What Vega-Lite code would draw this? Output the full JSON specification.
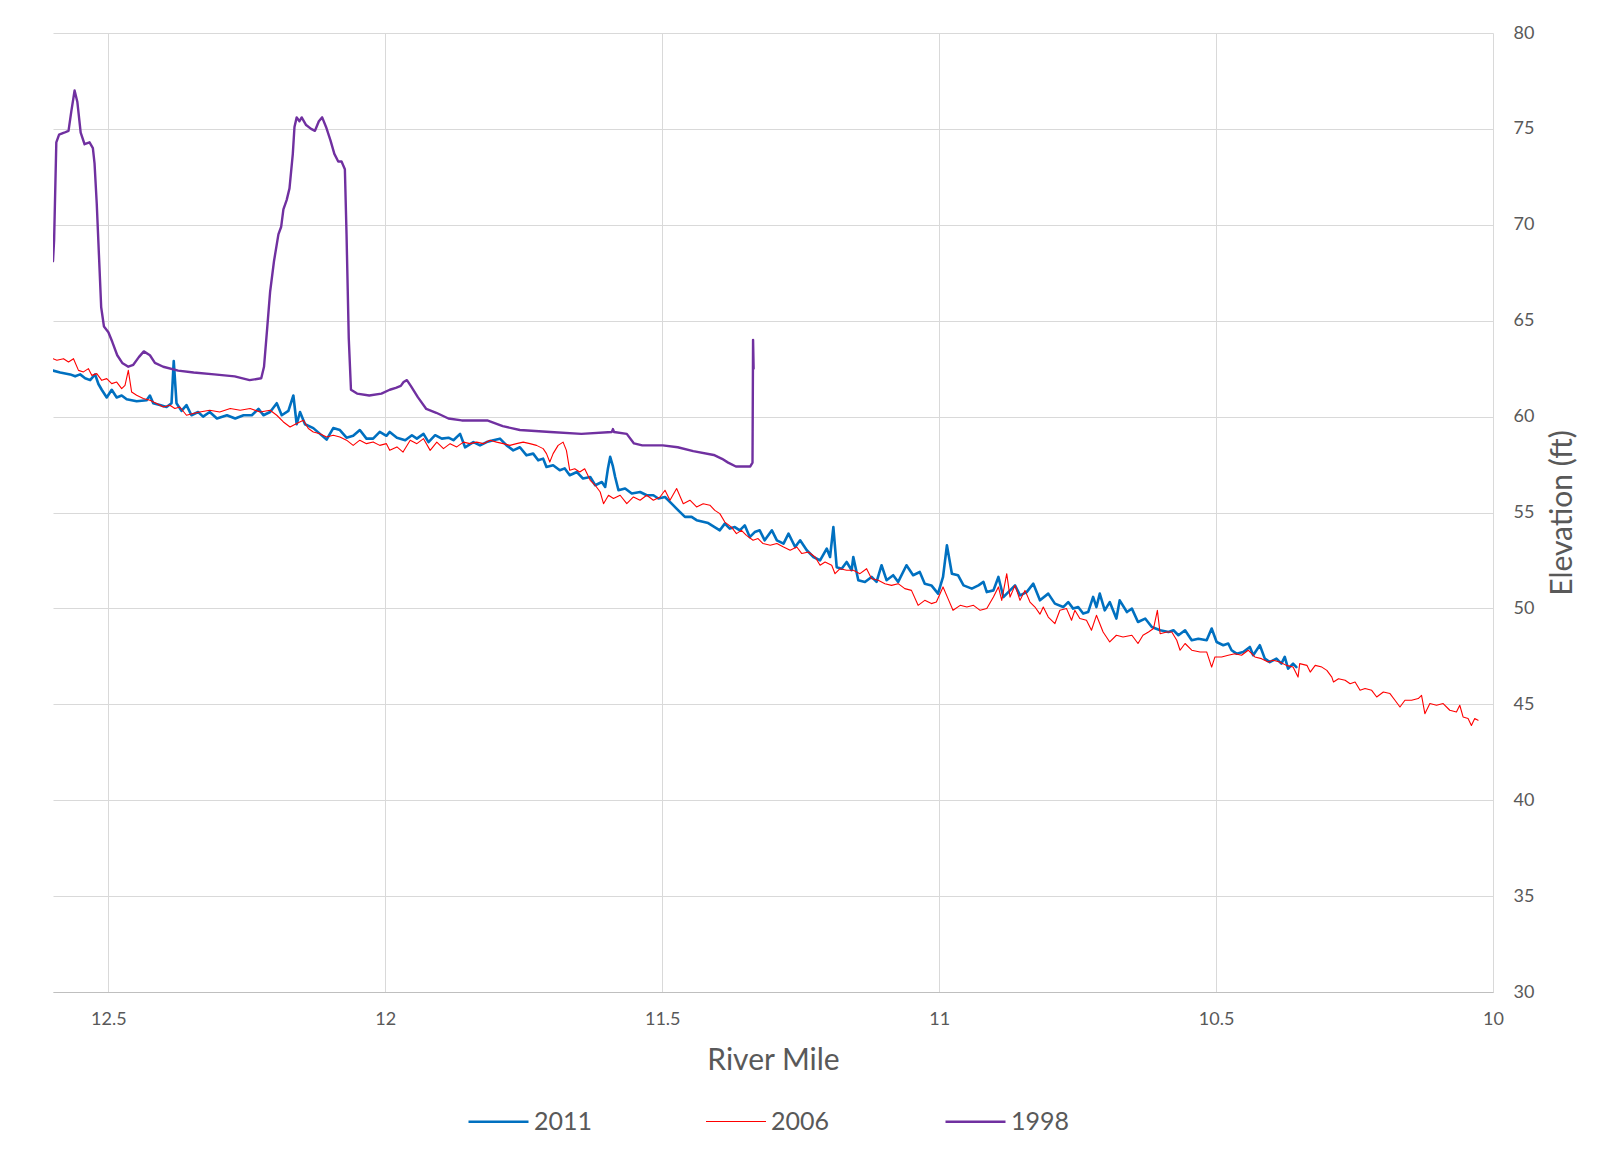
{
  "$schema": "https://vega.github.io/schema/vega-lite/v6.json",
  "autosize": {"type": "none"},
  "width": 1440,
  "height": 959,
  "padding": {"left": 53, "top": 33, "right": 107, "bottom": 173},
  "background": "white",
  "config": {"view": {"stroke": null}, "font": "Lato"},
  "data": {"values": [
{"year":"2011","mile":12.600,"elev":62.4},{"year":"2011","mile":12.587,"elev":62.3},{"year":"2011","mile":12.569,"elev":62.2},{"year":"2011","mile":12.560,"elev":62.1},{"year":"2011","mile":12.551,"elev":62.2},{"year":"2011","mile":12.542,"elev":62.0},{"year":"2011","mile":12.533,"elev":61.9},{"year":"2011","mile":12.524,"elev":62.2},{"year":"2011","mile":12.518,"elev":61.7},{"year":"2011","mile":12.512,"elev":61.4},{"year":"2011","mile":12.503,"elev":61.0},{"year":"2011","mile":12.494,"elev":61.4},{"year":"2011","mile":12.485,"elev":61.0},{"year":"2011","mile":12.476,"elev":61.1},{"year":"2011","mile":12.467,"elev":60.9},{"year":"2011","mile":12.449,"elev":60.8},{"year":"2011","mile":12.431,"elev":60.85},{"year":"2011","mile":12.425,"elev":61.1},{"year":"2011","mile":12.419,"elev":60.7},{"year":"2011","mile":12.407,"elev":60.6},{"year":"2011","mile":12.395,"elev":60.5},{"year":"2011","mile":12.386,"elev":60.7},{"year":"2011","mile":12.382,"elev":62.9},{"year":"2011","mile":12.377,"elev":60.7},{"year":"2011","mile":12.368,"elev":60.3},{"year":"2011","mile":12.359,"elev":60.6},{"year":"2011","mile":12.350,"elev":60.07},{"year":"2011","mile":12.338,"elev":60.24},{"year":"2011","mile":12.329,"elev":60.0},{"year":"2011","mile":12.317,"elev":60.24},{"year":"2011","mile":12.304,"elev":59.9},{"year":"2011","mile":12.286,"elev":60.07},{"year":"2011","mile":12.271,"elev":59.9},{"year":"2011","mile":12.256,"elev":60.07},{"year":"2011","mile":12.241,"elev":60.07},{"year":"2011","mile":12.229,"elev":60.4},{"year":"2011","mile":12.220,"elev":60.07},{"year":"2011","mile":12.208,"elev":60.24},{"year":"2011","mile":12.196,"elev":60.7},{"year":"2011","mile":12.187,"elev":60.07},{"year":"2011","mile":12.175,"elev":60.3},{"year":"2011","mile":12.166,"elev":61.1},{"year":"2011","mile":12.160,"elev":59.6},{"year":"2011","mile":12.154,"elev":60.24},{"year":"2011","mile":12.145,"elev":59.6},{"year":"2011","mile":12.130,"elev":59.4},{"year":"2011","mile":12.118,"elev":59.1},{"year":"2011","mile":12.106,"elev":58.8},{"year":"2011","mile":12.094,"elev":59.4},{"year":"2011","mile":12.082,"elev":59.3},{"year":"2011","mile":12.070,"elev":58.9},{"year":"2011","mile":12.058,"elev":59.0},{"year":"2011","mile":12.046,"elev":59.3},{"year":"2011","mile":12.034,"elev":58.85},{"year":"2011","mile":12.022,"elev":58.85},{"year":"2011","mile":12.010,"elev":59.2},{"year":"2011","mile":11.998,"elev":59.0},{"year":"2011","mile":11.992,"elev":59.2},{"year":"2011","mile":11.979,"elev":58.9},{"year":"2011","mile":11.964,"elev":58.77},{"year":"2011","mile":11.952,"elev":59.03},{"year":"2011","mile":11.943,"elev":58.85},{"year":"2011","mile":11.931,"elev":59.1},{"year":"2011","mile":11.922,"elev":58.67},{"year":"2011","mile":11.910,"elev":59.03},{"year":"2011","mile":11.898,"elev":58.85},{"year":"2011","mile":11.886,"elev":58.9},{"year":"2011","mile":11.877,"elev":58.77},{"year":"2011","mile":11.865,"elev":59.1},{"year":"2011","mile":11.856,"elev":58.4},{"year":"2011","mile":11.841,"elev":58.67},{"year":"2011","mile":11.829,"elev":58.5},{"year":"2011","mile":11.817,"elev":58.67},{"year":"2011","mile":11.805,"elev":58.77},{"year":"2011","mile":11.793,"elev":58.85},{"year":"2011","mile":11.781,"elev":58.5},{"year":"2011","mile":11.769,"elev":58.24},{"year":"2011","mile":11.757,"elev":58.4},{"year":"2011","mile":11.745,"elev":57.98},{"year":"2011","mile":11.733,"elev":58.07},{"year":"2011","mile":11.724,"elev":57.72},{"year":"2011","mile":11.715,"elev":57.81},{"year":"2011","mile":11.709,"elev":57.37},{"year":"2011","mile":11.697,"elev":57.46},{"year":"2011","mile":11.685,"elev":57.2},{"year":"2011","mile":11.676,"elev":57.3},{"year":"2011","mile":11.667,"elev":56.94},{"year":"2011","mile":11.654,"elev":57.11},{"year":"2011","mile":11.643,"elev":56.77},{"year":"2011","mile":11.630,"elev":56.85},{"year":"2011","mile":11.621,"elev":56.42},{"year":"2011","mile":11.609,"elev":56.59},{"year":"2011","mile":11.603,"elev":56.33},{"year":"2011","mile":11.598,"elev":57.3},{"year":"2011","mile":11.594,"elev":57.9},{"year":"2011","mile":11.589,"elev":57.4},{"year":"2011","mile":11.585,"elev":56.85},{"year":"2011","mile":11.579,"elev":56.16},{"year":"2011","mile":11.567,"elev":56.25},{"year":"2011","mile":11.555,"elev":55.99},{"year":"2011","mile":11.540,"elev":56.07},{"year":"2011","mile":11.528,"elev":55.9},{"year":"2011","mile":11.516,"elev":55.9},{"year":"2011","mile":11.507,"elev":55.73},{"year":"2011","mile":11.495,"elev":55.81},{"year":"2011","mile":11.483,"elev":55.46},{"year":"2011","mile":11.471,"elev":55.11},{"year":"2011","mile":11.459,"elev":54.77},{"year":"2011","mile":11.447,"elev":54.77},{"year":"2011","mile":11.438,"elev":54.6},{"year":"2011","mile":11.417,"elev":54.45},{"year":"2011","mile":11.396,"elev":54.07},{"year":"2011","mile":11.387,"elev":54.42},{"year":"2011","mile":11.378,"elev":54.16},{"year":"2011","mile":11.369,"elev":54.24},{"year":"2011","mile":11.360,"elev":54.07},{"year":"2011","mile":11.351,"elev":54.33},{"year":"2011","mile":11.342,"elev":53.72},{"year":"2011","mile":11.333,"elev":53.98},{"year":"2011","mile":11.324,"elev":54.07},{"year":"2011","mile":11.315,"elev":53.55},{"year":"2011","mile":11.302,"elev":54.07},{"year":"2011","mile":11.293,"elev":53.55},{"year":"2011","mile":11.281,"elev":53.38},{"year":"2011","mile":11.272,"elev":53.9},{"year":"2011","mile":11.260,"elev":53.2},{"year":"2011","mile":11.251,"elev":53.55},{"year":"2011","mile":11.239,"elev":53.03},{"year":"2011","mile":11.227,"elev":52.68},{"year":"2011","mile":11.215,"elev":52.5},{"year":"2011","mile":11.203,"elev":53.12},{"year":"2011","mile":11.197,"elev":52.68},{"year":"2011","mile":11.191,"elev":54.24},{"year":"2011","mile":11.185,"elev":52.15},{"year":"2011","mile":11.176,"elev":52.07},{"year":"2011","mile":11.167,"elev":52.42},{"year":"2011","mile":11.158,"elev":51.99},{"year":"2011","mile":11.155,"elev":52.68},{"year":"2011","mile":11.146,"elev":51.47},{"year":"2011","mile":11.134,"elev":51.38},{"year":"2011","mile":11.122,"elev":51.64},{"year":"2011","mile":11.113,"elev":51.38},{"year":"2011","mile":11.104,"elev":52.25},{"year":"2011","mile":11.095,"elev":51.47},{"year":"2011","mile":11.083,"elev":51.73},{"year":"2011","mile":11.074,"elev":51.38},{"year":"2011","mile":11.059,"elev":52.25},{"year":"2011","mile":11.047,"elev":51.73},{"year":"2011","mile":11.035,"elev":51.9},{"year":"2011","mile":11.026,"elev":51.29},{"year":"2011","mile":11.014,"elev":51.2},{"year":"2011","mile":11.002,"elev":50.77},{"year":"2011","mile":10.993,"elev":51.64},{"year":"2011","mile":10.986,"elev":53.29},{"year":"2011","mile":10.977,"elev":51.81},{"year":"2011","mile":10.966,"elev":51.73},{"year":"2011","mile":10.956,"elev":51.2},{"year":"2011","mile":10.941,"elev":51.03},{"year":"2011","mile":10.929,"elev":51.2},{"year":"2011","mile":10.920,"elev":51.38},{"year":"2011","mile":10.914,"elev":50.85},{"year":"2011","mile":10.902,"elev":50.94},{"year":"2011","mile":10.893,"elev":51.64},{"year":"2011","mile":10.884,"elev":50.59},{"year":"2011","mile":10.872,"elev":50.94},{"year":"2011","mile":10.863,"elev":51.2},{"year":"2011","mile":10.854,"elev":50.68},{"year":"2011","mile":10.842,"elev":50.85},{"year":"2011","mile":10.830,"elev":51.29},{"year":"2011","mile":10.818,"elev":50.42},{"year":"2011","mile":10.803,"elev":50.77},{"year":"2011","mile":10.791,"elev":50.25},{"year":"2011","mile":10.776,"elev":50.07},{"year":"2011","mile":10.767,"elev":50.33},{"year":"2011","mile":10.758,"elev":49.99},{"year":"2011","mile":10.749,"elev":50.07},{"year":"2011","mile":10.740,"elev":49.73},{"year":"2011","mile":10.731,"elev":49.81},{"year":"2011","mile":10.722,"elev":50.6},{"year":"2011","mile":10.716,"elev":50.07},{"year":"2011","mile":10.710,"elev":50.77},{"year":"2011","mile":10.701,"elev":49.9},{"year":"2011","mile":10.692,"elev":50.33},{"year":"2011","mile":10.680,"elev":49.47},{"year":"2011","mile":10.674,"elev":50.42},{"year":"2011","mile":10.661,"elev":49.81},{"year":"2011","mile":10.652,"elev":49.99},{"year":"2011","mile":10.641,"elev":49.29},{"year":"2011","mile":10.628,"elev":49.47},{"year":"2011","mile":10.616,"elev":49.03},{"year":"2011","mile":10.601,"elev":48.86},{"year":"2011","mile":10.586,"elev":48.77},{"year":"2011","mile":10.577,"elev":48.86},{"year":"2011","mile":10.568,"elev":48.6},{"year":"2011","mile":10.556,"elev":48.86},{"year":"2011","mile":10.544,"elev":48.34},{"year":"2011","mile":10.532,"elev":48.42},{"year":"2011","mile":10.517,"elev":48.34},{"year":"2011","mile":10.508,"elev":48.95},{"year":"2011","mile":10.499,"elev":48.25},{"year":"2011","mile":10.487,"elev":48.08},{"year":"2011","mile":10.478,"elev":48.17},{"year":"2011","mile":10.472,"elev":47.82},{"year":"2011","mile":10.463,"elev":47.64},{"year":"2011","mile":10.451,"elev":47.73},{"year":"2011","mile":10.439,"elev":47.99},{"year":"2011","mile":10.433,"elev":47.56},{"year":"2011","mile":10.421,"elev":48.08},{"year":"2011","mile":10.412,"elev":47.38},{"year":"2011","mile":10.403,"elev":47.2},{"year":"2011","mile":10.391,"elev":47.38},{"year":"2011","mile":10.382,"elev":47.12},{"year":"2011","mile":10.376,"elev":47.47},{"year":"2011","mile":10.370,"elev":46.86},{"year":"2011","mile":10.361,"elev":47.12},{"year":"2011","mile":10.355,"elev":46.94},
{"year":"2006","mile":12.600,"elev":63.02},{"year":"2006","mile":12.593,"elev":62.94},{"year":"2006","mile":12.581,"elev":63.02},{"year":"2006","mile":12.572,"elev":62.85},{"year":"2006","mile":12.563,"elev":63.02},{"year":"2006","mile":12.554,"elev":62.41},{"year":"2006","mile":12.545,"elev":62.33},{"year":"2006","mile":12.536,"elev":62.5},{"year":"2006","mile":12.530,"elev":62.15},{"year":"2006","mile":12.521,"elev":62.24},{"year":"2006","mile":12.512,"elev":61.89},{"year":"2006","mile":12.503,"elev":61.98},{"year":"2006","mile":12.494,"elev":61.72},{"year":"2006","mile":12.485,"elev":61.8},{"year":"2006","mile":12.476,"elev":61.46},{"year":"2006","mile":12.470,"elev":61.63},{"year":"2006","mile":12.464,"elev":62.41},{"year":"2006","mile":12.458,"elev":61.28},{"year":"2006","mile":12.449,"elev":61.11},{"year":"2006","mile":12.437,"elev":60.94},{"year":"2006","mile":12.425,"elev":60.85},{"year":"2006","mile":12.413,"elev":60.68},{"year":"2006","mile":12.401,"elev":60.5},{"year":"2006","mile":12.389,"elev":60.59},{"year":"2006","mile":12.380,"elev":60.42},{"year":"2006","mile":12.371,"elev":60.5},{"year":"2006","mile":12.359,"elev":60.07},{"year":"2006","mile":12.347,"elev":60.16},{"year":"2006","mile":12.335,"elev":60.24},{"year":"2006","mile":12.317,"elev":60.33},{"year":"2006","mile":12.299,"elev":60.24},{"year":"2006","mile":12.280,"elev":60.42},{"year":"2006","mile":12.262,"elev":60.33},{"year":"2006","mile":12.244,"elev":60.42},{"year":"2006","mile":12.226,"elev":60.24},{"year":"2006","mile":12.208,"elev":60.33},{"year":"2006","mile":12.196,"elev":60.07},{"year":"2006","mile":12.184,"elev":59.72},{"year":"2006","mile":12.172,"elev":59.46},{"year":"2006","mile":12.160,"elev":59.64},{"year":"2006","mile":12.148,"elev":59.81},{"year":"2006","mile":12.139,"elev":59.38},{"year":"2006","mile":12.130,"elev":59.2},{"year":"2006","mile":12.118,"elev":59.11},{"year":"2006","mile":12.106,"elev":58.94},{"year":"2006","mile":12.094,"elev":59.03},{"year":"2006","mile":12.082,"elev":58.94},{"year":"2006","mile":12.070,"elev":58.77},{"year":"2006","mile":12.058,"elev":58.5},{"year":"2006","mile":12.046,"elev":58.77},{"year":"2006","mile":12.034,"elev":58.59},{"year":"2006","mile":12.022,"elev":58.68},{"year":"2006","mile":12.010,"elev":58.5},{"year":"2006","mile":11.998,"elev":58.59},{"year":"2006","mile":11.992,"elev":58.24},{"year":"2006","mile":11.979,"elev":58.42},{"year":"2006","mile":11.968,"elev":58.15},{"year":"2006","mile":11.955,"elev":58.77},{"year":"2006","mile":11.943,"elev":58.59},{"year":"2006","mile":11.931,"elev":58.85},{"year":"2006","mile":11.919,"elev":58.24},{"year":"2006","mile":11.907,"elev":58.67},{"year":"2006","mile":11.895,"elev":58.33},{"year":"2006","mile":11.883,"elev":58.59},{"year":"2006","mile":11.871,"elev":58.42},{"year":"2006","mile":11.859,"elev":58.67},{"year":"2006","mile":11.847,"elev":58.59},{"year":"2006","mile":11.835,"elev":58.67},{"year":"2006","mile":11.823,"elev":58.59},{"year":"2006","mile":11.811,"elev":58.77},{"year":"2006","mile":11.799,"elev":58.67},{"year":"2006","mile":11.787,"elev":58.59},{"year":"2006","mile":11.775,"elev":58.5},{"year":"2006","mile":11.763,"elev":58.59},{"year":"2006","mile":11.751,"elev":58.67},{"year":"2006","mile":11.739,"elev":58.59},{"year":"2006","mile":11.727,"elev":58.5},{"year":"2006","mile":11.715,"elev":58.33},{"year":"2006","mile":11.709,"elev":58.07},{"year":"2006","mile":11.703,"elev":57.63},{"year":"2006","mile":11.697,"elev":58.07},{"year":"2006","mile":11.688,"elev":58.5},{"year":"2006","mile":11.679,"elev":58.67},{"year":"2006","mile":11.673,"elev":58.24},{"year":"2006","mile":11.667,"elev":57.2},{"year":"2006","mile":11.658,"elev":57.28},{"year":"2006","mile":11.649,"elev":57.11},{"year":"2006","mile":11.640,"elev":57.28},{"year":"2006","mile":11.630,"elev":56.68},{"year":"2006","mile":11.621,"elev":56.42},{"year":"2006","mile":11.612,"elev":56.07},{"year":"2006","mile":11.606,"elev":55.46},{"year":"2006","mile":11.597,"elev":55.9},{"year":"2006","mile":11.588,"elev":55.73},{"year":"2006","mile":11.576,"elev":55.9},{"year":"2006","mile":11.564,"elev":55.46},{"year":"2006","mile":11.552,"elev":55.81},{"year":"2006","mile":11.540,"elev":55.64},{"year":"2006","mile":11.528,"elev":55.9},{"year":"2006","mile":11.516,"elev":55.64},{"year":"2006","mile":11.504,"elev":55.81},{"year":"2006","mile":11.495,"elev":56.16},{"year":"2006","mile":11.486,"elev":55.64},{"year":"2006","mile":11.474,"elev":56.25},{"year":"2006","mile":11.462,"elev":55.46},{"year":"2006","mile":11.450,"elev":55.64},{"year":"2006","mile":11.438,"elev":55.29},{"year":"2006","mile":11.426,"elev":55.46},{"year":"2006","mile":11.414,"elev":55.38},{"year":"2006","mile":11.405,"elev":55.11},{"year":"2006","mile":11.396,"elev":54.94},{"year":"2006","mile":11.387,"elev":54.5},{"year":"2006","mile":11.375,"elev":54.24},{"year":"2006","mile":11.366,"elev":53.9},{"year":"2006","mile":11.357,"elev":54.07},{"year":"2006","mile":11.348,"elev":53.81},{"year":"2006","mile":11.336,"elev":53.55},{"year":"2006","mile":11.327,"elev":53.64},{"year":"2006","mile":11.318,"elev":53.38},{"year":"2006","mile":11.305,"elev":53.29},{"year":"2006","mile":11.293,"elev":53.38},{"year":"2006","mile":11.281,"elev":53.2},{"year":"2006","mile":11.269,"elev":53.03},{"year":"2006","mile":11.257,"elev":53.2},{"year":"2006","mile":11.248,"elev":52.86},{"year":"2006","mile":11.236,"elev":52.94},{"year":"2006","mile":11.224,"elev":52.68},{"year":"2006","mile":11.215,"elev":52.25},{"year":"2006","mile":11.206,"elev":52.42},{"year":"2006","mile":11.194,"elev":52.25},{"year":"2006","mile":11.188,"elev":51.81},{"year":"2006","mile":11.179,"elev":52.07},{"year":"2006","mile":11.167,"elev":51.99},{"year":"2006","mile":11.155,"elev":51.99},{"year":"2006","mile":11.143,"elev":51.81},{"year":"2006","mile":11.131,"elev":52.07},{"year":"2006","mile":11.122,"elev":51.55},{"year":"2006","mile":11.110,"elev":51.47},{"year":"2006","mile":11.098,"elev":51.29},{"year":"2006","mile":11.086,"elev":51.2},{"year":"2006","mile":11.074,"elev":51.29},{"year":"2006","mile":11.062,"elev":51.03},{"year":"2006","mile":11.050,"elev":50.94},{"year":"2006","mile":11.038,"elev":50.16},{"year":"2006","mile":11.026,"elev":50.42},{"year":"2006","mile":11.014,"elev":50.25},{"year":"2006","mile":11.005,"elev":50.33},{"year":"2006","mile":10.993,"elev":51.12},{"year":"2006","mile":10.984,"elev":50.51},{"year":"2006","mile":10.975,"elev":49.9},{"year":"2006","mile":10.962,"elev":50.16},{"year":"2006","mile":10.950,"elev":50.07},{"year":"2006","mile":10.938,"elev":50.16},{"year":"2006","mile":10.926,"elev":49.9},{"year":"2006","mile":10.914,"elev":49.99},{"year":"2006","mile":10.902,"elev":50.59},{"year":"2006","mile":10.893,"elev":51.12},{"year":"2006","mile":10.887,"elev":50.42},{"year":"2006","mile":10.878,"elev":51.81},{"year":"2006","mile":10.872,"elev":50.59},{"year":"2006","mile":10.863,"elev":51.2},{"year":"2006","mile":10.854,"elev":50.42},{"year":"2006","mile":10.845,"elev":50.94},{"year":"2006","mile":10.836,"elev":50.33},{"year":"2006","mile":10.827,"elev":50.07},{"year":"2006","mile":10.818,"elev":49.7},{"year":"2006","mile":10.812,"elev":50.07},{"year":"2006","mile":10.803,"elev":49.55},{"year":"2006","mile":10.791,"elev":49.21},{"year":"2006","mile":10.782,"elev":49.9},{"year":"2006","mile":10.770,"elev":49.99},{"year":"2006","mile":10.761,"elev":49.38},{"year":"2006","mile":10.755,"elev":49.9},{"year":"2006","mile":10.746,"elev":49.47},{"year":"2006","mile":10.734,"elev":49.38},{"year":"2006","mile":10.725,"elev":48.86},{"year":"2006","mile":10.716,"elev":49.64},{"year":"2006","mile":10.704,"elev":48.77},{"year":"2006","mile":10.692,"elev":48.25},{"year":"2006","mile":10.680,"elev":48.6},{"year":"2006","mile":10.668,"elev":48.51},{"year":"2006","mile":10.652,"elev":48.6},{"year":"2006","mile":10.641,"elev":48.17},{"year":"2006","mile":10.632,"elev":48.6},{"year":"2006","mile":10.622,"elev":48.77},{"year":"2006","mile":10.613,"elev":48.95},{"year":"2006","mile":10.606,"elev":49.9},{"year":"2006","mile":10.601,"elev":48.68},{"year":"2006","mile":10.589,"elev":48.77},{"year":"2006","mile":10.580,"elev":48.77},{"year":"2006","mile":10.571,"elev":48.34},{"year":"2006","mile":10.565,"elev":47.82},{"year":"2006","mile":10.556,"elev":48.17},{"year":"2006","mile":10.544,"elev":47.82},{"year":"2006","mile":10.529,"elev":47.73},{"year":"2006","mile":10.517,"elev":47.73},{"year":"2006","mile":10.508,"elev":46.94},{"year":"2006","mile":10.502,"elev":47.47},{"year":"2006","mile":10.490,"elev":47.47},{"year":"2006","mile":10.478,"elev":47.56},{"year":"2006","mile":10.466,"elev":47.64},{"year":"2006","mile":10.454,"elev":47.56},{"year":"2006","mile":10.442,"elev":47.82},{"year":"2006","mile":10.430,"elev":47.47},{"year":"2006","mile":10.418,"elev":47.38},{"year":"2006","mile":10.406,"elev":47.21},{"year":"2006","mile":10.397,"elev":47.3},{"year":"2006","mile":10.385,"elev":47.21},{"year":"2006","mile":10.373,"elev":47.03},{"year":"2006","mile":10.361,"elev":46.94},{"year":"2006","mile":10.352,"elev":46.42},{"year":"2006","mile":10.349,"elev":47.12},{"year":"2006","mile":10.336,"elev":47.03},{"year":"2006","mile":10.330,"elev":46.68},{"year":"2006","mile":10.321,"elev":47.03},{"year":"2006","mile":10.309,"elev":46.94},{"year":"2006","mile":10.300,"elev":46.77},{"year":"2006","mile":10.291,"elev":46.42},{"year":"2006","mile":10.288,"elev":46.16},{"year":"2006","mile":10.279,"elev":46.33},{"year":"2006","mile":10.267,"elev":46.25},{"year":"2006","mile":10.258,"elev":46.07},{"year":"2006","mile":10.249,"elev":46.16},{"year":"2006","mile":10.240,"elev":45.73},{"year":"2006","mile":10.231,"elev":45.82},{"year":"2006","mile":10.219,"elev":45.73},{"year":"2006","mile":10.210,"elev":45.38},{"year":"2006","mile":10.198,"elev":45.64},{"year":"2006","mile":10.186,"elev":45.56},{"year":"2006","mile":10.177,"elev":45.21},{"year":"2006","mile":10.168,"elev":44.86},{"year":"2006","mile":10.159,"elev":45.21},{"year":"2006","mile":10.147,"elev":45.21},{"year":"2006","mile":10.135,"elev":45.3},{"year":"2006","mile":10.129,"elev":45.47},{"year":"2006","mile":10.123,"elev":44.51},{"year":"2006","mile":10.114,"elev":45.04},{"year":"2006","mile":10.102,"elev":44.95},{"year":"2006","mile":10.090,"elev":45.04},{"year":"2006","mile":10.078,"elev":44.69},{"year":"2006","mile":10.066,"elev":44.6},{"year":"2006","mile":10.060,"elev":44.95},{"year":"2006","mile":10.054,"elev":44.34},{"year":"2006","mile":10.045,"elev":44.26},{"year":"2006","mile":10.039,"elev":43.9},{"year":"2006","mile":10.033,"elev":44.26},{"year":"2006","mile":10.027,"elev":44.17},
{"year":"1998","mile":12.600,"elev":68.1},{"year":"1998","mile":12.598,"elev":69.2},{"year":"1998","mile":12.594,"elev":74.3},{"year":"1998","mile":12.589,"elev":74.7},{"year":"1998","mile":12.580,"elev":74.8},{"year":"1998","mile":12.572,"elev":74.9},{"year":"1998","mile":12.567,"elev":75.9},{"year":"1998","mile":12.561,"elev":77.0},{"year":"1998","mile":12.556,"elev":76.4},{"year":"1998","mile":12.550,"elev":74.8},{"year":"1998","mile":12.543,"elev":74.2},{"year":"1998","mile":12.534,"elev":74.3},{"year":"1998","mile":12.528,"elev":74.0},{"year":"1998","mile":12.525,"elev":73.2},{"year":"1998","mile":12.521,"elev":71.1},{"year":"1998","mile":12.517,"elev":68.4},{"year":"1998","mile":12.513,"elev":65.7},{"year":"1998","mile":12.508,"elev":64.7},{"year":"1998","mile":12.500,"elev":64.4},{"year":"1998","mile":12.493,"elev":63.9},{"year":"1998","mile":12.484,"elev":63.2},{"year":"1998","mile":12.475,"elev":62.8},{"year":"1998","mile":12.464,"elev":62.6},{"year":"1998","mile":12.455,"elev":62.7},{"year":"1998","mile":12.445,"elev":63.1},{"year":"1998","mile":12.436,"elev":63.4},{"year":"1998","mile":12.425,"elev":63.2},{"year":"1998","mile":12.416,"elev":62.8},{"year":"1998","mile":12.401,"elev":62.6},{"year":"1998","mile":12.374,"elev":62.4},{"year":"1998","mile":12.346,"elev":62.3},{"year":"1998","mile":12.309,"elev":62.2},{"year":"1998","mile":12.272,"elev":62.1},{"year":"1998","mile":12.245,"elev":61.9},{"year":"1998","mile":12.224,"elev":62.0},{"year":"1998","mile":12.219,"elev":62.6},{"year":"1998","mile":12.213,"elev":64.7},{"year":"1998","mile":12.208,"elev":66.5},{"year":"1998","mile":12.201,"elev":68.1},{"year":"1998","mile":12.193,"elev":69.5},{"year":"1998","mile":12.188,"elev":69.9},{"year":"1998","mile":12.184,"elev":70.8},{"year":"1998","mile":12.178,"elev":71.3},{"year":"1998","mile":12.173,"elev":71.9},{"year":"1998","mile":12.167,"elev":73.7},{"year":"1998","mile":12.164,"elev":75.1},{"year":"1998","mile":12.160,"elev":75.6},{"year":"1998","mile":12.155,"elev":75.4},{"year":"1998","mile":12.151,"elev":75.6},{"year":"1998","mile":12.143,"elev":75.2},{"year":"1998","mile":12.134,"elev":75.0},{"year":"1998","mile":12.127,"elev":74.9},{"year":"1998","mile":12.120,"elev":75.4},{"year":"1998","mile":12.114,"elev":75.6},{"year":"1998","mile":12.107,"elev":75.1},{"year":"1998","mile":12.099,"elev":74.4},{"year":"1998","mile":12.092,"elev":73.7},{"year":"1998","mile":12.085,"elev":73.3},{"year":"1998","mile":12.079,"elev":73.3},{"year":"1998","mile":12.073,"elev":72.9},{"year":"1998","mile":12.070,"elev":69.5},{"year":"1998","mile":12.066,"elev":64.1},{"year":"1998","mile":12.062,"elev":61.4},{"year":"1998","mile":12.051,"elev":61.2},{"year":"1998","mile":12.029,"elev":61.1},{"year":"1998","mile":12.007,"elev":61.2},{"year":"1998","mile":11.992,"elev":61.4},{"year":"1998","mile":11.981,"elev":61.5},{"year":"1998","mile":11.972,"elev":61.6},{"year":"1998","mile":11.967,"elev":61.8},{"year":"1998","mile":11.961,"elev":61.9},{"year":"1998","mile":11.954,"elev":61.6},{"year":"1998","mile":11.941,"elev":61.0},{"year":"1998","mile":11.926,"elev":60.4},{"year":"1998","mile":11.908,"elev":60.2},{"year":"1998","mile":11.886,"elev":59.9},{"year":"1998","mile":11.862,"elev":59.8},{"year":"1998","mile":11.816,"elev":59.8},{"year":"1998","mile":11.788,"elev":59.5},{"year":"1998","mile":11.757,"elev":59.3},{"year":"1998","mile":11.702,"elev":59.2},{"year":"1998","mile":11.646,"elev":59.1},{"year":"1998","mile":11.591,"elev":59.2},{"year":"1998","mile":11.589,"elev":59.35},{"year":"1998","mile":11.587,"elev":59.2},{"year":"1998","mile":11.564,"elev":59.1},{"year":"1998","mile":11.551,"elev":58.6},{"year":"1998","mile":11.536,"elev":58.5},{"year":"1998","mile":11.499,"elev":58.5},{"year":"1998","mile":11.472,"elev":58.4},{"year":"1998","mile":11.444,"elev":58.2},{"year":"1998","mile":11.407,"elev":58.0},{"year":"1998","mile":11.392,"elev":57.8},{"year":"1998","mile":11.381,"elev":57.6},{"year":"1998","mile":11.367,"elev":57.4},{"year":"1998","mile":11.341,"elev":57.4},{"year":"1998","mile":11.337,"elev":57.6},{"year":"1998","mile":11.336,"elev":64.0},{"year":"1998","mile":11.335,"elev":62.5}
  ]},
  "mark": {"type": "line", "clip": true, "strokeJoin": "round", "strokeCap": "round"},
  "encoding": {
    "x": {
      "field": "mile", "type": "quantitative",
      "scale": {"domain": [10, 12.6], "reverse": true, "nice": false, "zero": false},
      "axis": {
        "values": [10, 10.5, 11, 11.5, 12, 12.5], "format": "~f",
        "title": "River Mile", "titleFont": "Lato", "titleFontSize": 30, "titleFontWeight": "normal", "titleColor": "#595959", "titlePadding": 17,
        "labelFont": "Lato", "labelFontSize": 18, "labelColor": "#595959", "labelPadding": 18, "labelFlush": false,
        "ticks": false, "tickSize": 0, "domainColor": "#BFBFBF", "domainWidth": 1,
        "grid": true, "gridColor": "#D9D9D9", "gridWidth": 1
      }
    },
    "y": {
      "field": "elev", "type": "quantitative",
      "scale": {"domain": [30, 80], "nice": false, "zero": false},
      "axis": {
        "orient": "right", "values": [30, 35, 40, 45, 50, 55, 60, 65, 70, 75, 80],
        "title": "Elevation (ft)", "titleAngle": -90, "titleFont": "Lato", "titleFontSize": 30, "titleFontWeight": "normal", "titleColor": "#595959", "titlePadding": 44,
        "labelFont": "Lato", "labelFontSize": 18, "labelColor": "#595959", "labelPadding": 20, "labelFlush": false,
        "ticks": false, "tickSize": 0, "domain": false,
        "grid": true, "gridColor": "#D9D9D9", "gridWidth": 1
      }
    },
    "color": {
      "field": "year", "type": "nominal",
      "scale": {"domain": ["2011", "2006", "1998"], "range": ["#0070C0", "#FF0000", "#7030A0"]},
      "legend": {
        "orient": "none", "legendX": 414, "legendY": 1057, "direction": "horizontal", "title": null,
        "symbolType": "stroke", "symbolSize": 3600, "symbolStrokeWidth": 2.5,
        "labelFont": "Lato", "labelFontSize": 25, "labelColor": "#595959", "labelOffset": 4,
        "columnPadding": 110, "padding": 0
      }
    },
    "strokeWidth": {
      "field": "year", "type": "nominal",
      "scale": {"type": "ordinal", "domain": ["2011", "2006", "1998"], "range": [2.6, 1.1, 2.4]},
      "legend": null
    }
  }
}
